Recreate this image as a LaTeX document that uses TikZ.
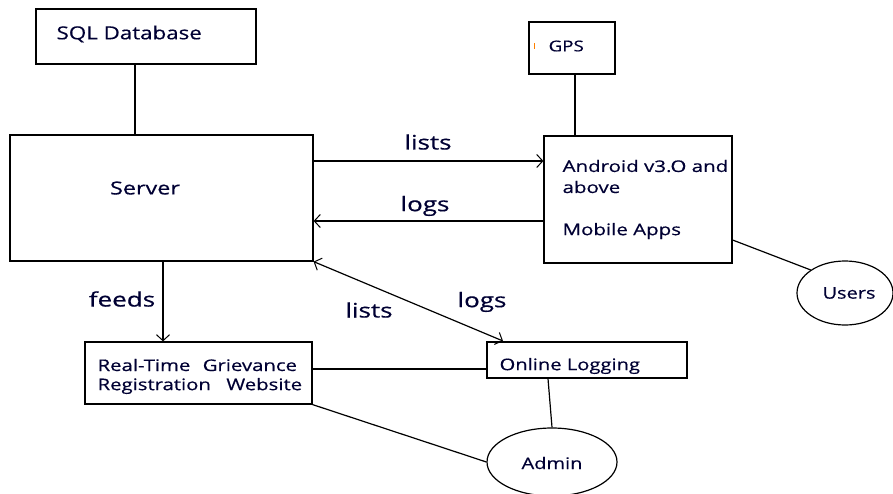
\documentclass[tikz,border=0pt]{standalone}
\usepackage{fontspec}
\setmainfont[FakeBold=0.4]{Open Sans}
\usetikzlibrary{arrows.meta,shapes.geometric}
\newcommand\sx[2]{\scalebox{#1}[1]{#2}}
\begin{document}
\begin{tikzpicture}[x=1pt,y=-1pt,
  line width=1.2pt,
  box/.style={draw,rectangle,inner sep=0pt},
  oval/.style={draw,ellipse,inner sep=0pt},
  arr/.style={-{Straight Barb[length=6pt,width=13pt,line width=1pt]}},
  darr/.style={{Straight Barb[length=6pt,width=13pt,line width=1pt]}-{Straight Barb[length=6pt,width=13pt,line width=1pt]}},
  txt/.style={inner sep=0pt,text=black!80!blue},
  lbl/.style={inner sep=0pt,font=\fontsize{20}{22}\selectfont,text=black!80!blue}]
\useasboundingbox[fill=white] (0,0) rectangle (893,494);
\begin{scope}
\clip (0,0) rectangle (893,494);
% boxes
\node[box,minimum width=220pt,minimum height=55pt] (sql) at (146,36.5) {};
\node[txt,anchor=west,font=\fontsize{18}{20}\selectfont] (tsql) at (56,34) {\sx{1.24}{SQL Database}};
\node[box,minimum width=303pt,minimum height=126pt] (server) at (161.5,198) {};
\node[txt,font=\fontsize{18}{20}\selectfont] (tserver) at (145,188) {\sx{1.3}{Server}};
\node[box,minimum width=86pt,minimum height=52pt] (gps) at (572,48) {};
\node[txt,anchor=west,font=\fontsize{15}{18}\selectfont] (tgps) at (548,46) {\sx{1.25}{GPS}};
\fill[orange] (534,43) rectangle (535,49);
\node[box,minimum width=188pt,minimum height=127pt] (android) at (638,199.5) {};
\node[txt,anchor=west,font=\fontsize{16}{18}\selectfont] (ta1) at (562,166) {\sx{1.28}{Android v3.O and}};
\node[txt,anchor=west,font=\fontsize{16}{18}\selectfont] (ta2) at (562,187) {\sx{1.28}{above}};
\node[txt,anchor=west,font=\fontsize{16}{18}\selectfont] (ta3) at (562,231) {\sx{1.28}{Mobile Apps}};
\node[box,minimum width=227pt,minimum height=62pt] (web) at (198.5,373) {};
\node[txt,anchor=west,font=\fontsize{16}{17}\selectfont] (tw1) at (97,365) {\sx{1.27}{\makebox[157pt][s]{Real-Time\hfill Grievance}}};
\node[txt,anchor=west,font=\fontsize{16}{17}\selectfont] (tw2) at (97,386) {\sx{1.27}{\makebox[161pt][s]{Registration\hfill Website}}};
\node[box,minimum width=200pt,minimum height=36pt] (log) at (587,360) {};
\node[txt,anchor=west,font=\fontsize{16}{18}\selectfont] (tlog) at (499,366) {\sx{1.26}{Online Logging}};
\node[oval,minimum width=96pt,minimum height=64pt] (users) at (845,293) {};
\node[txt,font=\fontsize{16}{18}\selectfont] (tusers) at (849,293) {\sx{1.25}{Users}};
\node[oval,minimum width=130pt,minimum height=68pt] (admin) at (552,462) {};
\node[txt,font=\fontsize{16}{18}\selectfont] (tadmin) at (552,463) {\sx{1.25}{Admin}};
% connectors
\draw (sql.south -| 135,0) -- (server.north -| 135,0);
\draw (gps.south -| 575,0) -- (android.north -| 575,0);
\draw[arr] (server.east |- 0,161) -- (android.west |- 0,161);
\draw[arr] (android.west |- 0,221) -- (server.east |- 0,221);
\draw[arr] (server.south -| 163,0) -- (web.north -| 163,0);
\draw (web.east |- 0,369) -- (log.west |- 0,369);
\coordinate (logtop) at (503,341);
\draw[darr] (server.south east) -- (logtop);
\draw (log.south -| 548,0) -- (admin.north);
\draw (web.south east) -- (admin.west);
\draw (android.east |- 0,240) -- (users.north west);
% labels
\node[lbl] (l1) at (428,142) {\sx{1.3}{lists}};
\node[lbl] (l2) at (425,206) {\sx{1.3}{logs}};
\node[lbl] (l3) at (122,299) {\sx{1.3}{feeds}};
\node[lbl] (l4) at (369,310) {\sx{1.3}{lists}};
\node[lbl] (l5) at (482,302) {\sx{1.3}{logs}};
\end{scope}
\end{tikzpicture}
\end{document}
